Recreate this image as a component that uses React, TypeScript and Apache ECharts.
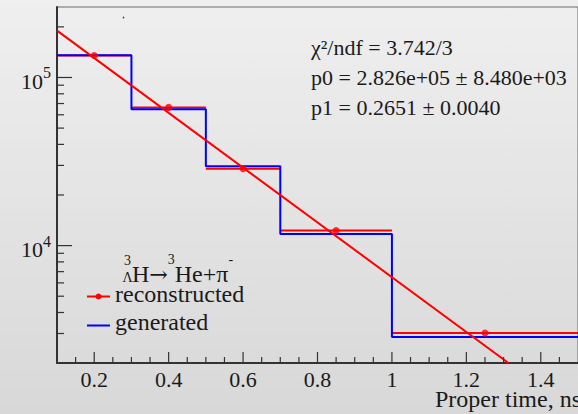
import React, { useEffect, useRef } from 'react';
import * as echarts from 'echarts';

// ---- data ----
const binEdges = [0.1, 0.3, 0.5, 0.7, 1.0, 1.5];
const binCenters = [0.2, 0.4, 0.6, 0.85, 1.25];
const generated = [135700, 64800, 29700, 11740, 2860];
const reconstructed = [135200, 66400, 28700, 12280, 3020];
const fitLine = [
  [0.1, 190000],
  [1.313, 2003],
];
const xMajorTicks = [0.2, 0.4, 0.6, 0.8, 1.0, 1.2, 1.4];
const xMajorLabels = ['0.2', '0.4', '0.6', '0.8', '1', '1.2', '1.4'];
const xMinorTicks = [
  0.15, 0.25, 0.3, 0.35, 0.45, 0.5, 0.55, 0.65, 0.7, 0.75, 0.85, 0.9, 0.95,
  1.05, 1.1, 1.15, 1.25, 1.3, 1.35, 1.45,
];
const yMajorTicks = [10000, 100000];
const yMajorExponents = ['4', '5'];
const yMinorTicks = [
  3000, 4000, 5000, 6000, 7000, 8000, 9000, 20000, 30000, 40000, 50000, 60000,
  70000, 80000, 90000, 200000,
];
const statLines = [
  'χ²/ndf = 3.742/3',
  'p0 = 2.826e+05 ± 8.480e+03',
  'p1 = 0.2651 ± 0.0040',
];
const legendLabels = ['reconstructed', 'generated'];

const X_MIN = 0.1;
const X_MAX = 1.5;
const Y_MIN = 2003;
const Y_MAX = 262600;

const FAMILY = "'Liberation Serif', serif";
const ARROW_FAMILY = "'DejaVu Serif', serif";
const AXIS = '#333333';
const TEXT = '#1a1a1a';
const RED = '#ff0000';
const BLUE = '#0000ff';

function txt(text: string, x: number, y: number, size: number, align = 'left', extra: any = {}) {
  return {
    type: 'text',
    x,
    y,
    silent: true,
    style: {
      text,
      fill: TEXT,
      fontSize: size,
      fontFamily: FAMILY,
      align,
      verticalAlign: 'middle',
      ...extra,
    },
  };
}

export default function App() {
  const ref = useRef<HTMLDivElement>(null);

  useEffect(() => {
    if (!ref.current) return;
    const chart = echarts.init(ref.current, undefined, { renderer: 'svg' });

    const graphic: any[] = [
      // stats text
      ...statLines.map((s, i) => txt(s, 311, 47.5 + i * 30, 22)),
      // legend header: ^3_Λ H → ^3 He + π^-
      txt('3\nΛ', 127.5, 251.5, 14, 'center', { verticalAlign: 'top', lineHeight: 17 }),
      {
        type: 'text',
        x: 132,
        y: 252.5,
        silent: true,
        style: {
          text: '{b|H}{a|→}{s|3}{b|He+π}{s|-}',
          fill: TEXT,
          fontSize: 24,
          fontFamily: FAMILY,
          align: 'left',
          verticalAlign: 'top',
          rich: {
            b: { fontSize: 24, fontFamily: FAMILY, fill: TEXT, lineHeight: 33, verticalAlign: 'bottom' },
            a: { fontSize: 22, fontFamily: ARROW_FAMILY, fill: TEXT, lineHeight: 33, verticalAlign: 'bottom' },
            s: { fontSize: 14, fontFamily: FAMILY, fill: TEXT, lineHeight: 14, verticalAlign: 'top' },
          },
        },
      },
      // legend entries
      { type: 'line', silent: true, shape: { x1: 87, y1: 296.5, x2: 110, y2: 296.5 }, style: { stroke: RED, lineWidth: 2 } },
      { type: 'circle', silent: true, shape: { cx: 98.5, cy: 296.5, r: 3 }, style: { fill: RED } },
      txt(legendLabels[0], 115, 293.5, 24),
      { type: 'line', silent: true, shape: { x1: 87, y1: 325.5, x2: 110, y2: 325.5 }, style: { stroke: BLUE, lineWidth: 2 } },
      txt(legendLabels[1], 115, 322, 24),
      // axis title
      txt('Proper time, ns', 581, 399, 24, 'right'),
      // stray dot in the original
      { type: 'circle', silent: true, shape: { cx: 123.5, cy: 17.5, r: 0.8 }, style: { fill: '#444' } },
    ];

    const option: any = {
      animation: false,
      textStyle: { fontFamily: FAMILY },
      backgroundColor: {
        type: 'linear',
        x: 0,
        y: 0,
        x2: 0,
        y2: 1,
        colorStops: [
          { offset: 0, color: '#efefef' },
          { offset: 1, color: '#d8d8d8' },
        ],
      },
      grid: {
        left: 57,
        top: 7,
        width: 524,
        height: 356,
        show: true,
        borderColor: '#6a6a6a',
        borderWidth: 1,
        backgroundColor: 'transparent',
      },
      xAxis: {
        type: 'value',
        min: X_MIN,
        max: X_MAX,
        axisLine: { show: true, onZero: false, lineStyle: { color: AXIS, width: 2 } },
        axisTick: { show: false },
        axisLabel: { show: false },
        splitLine: { show: false },
      },
      yAxis: {
        type: 'log',
        logBase: 10,
        min: Y_MIN,
        max: Y_MAX,
        axisLine: { show: true, lineStyle: { color: AXIS, width: 2 } },
        axisTick: { show: false },
        axisLabel: { show: false },
        splitLine: { show: false },
      },
      graphic,
      series: [
        // x minor ticks
        {
          type: 'custom',
          silent: true,
          z: 10,
          data: xMinorTicks.map((v) => [v, Y_MIN]),
          encode: { x: 0, y: 1 },
          renderItem: (params: any, api: any) => {
            const p = api.coord([api.value(0), Y_MIN]);
            return {
              type: 'line',
              shape: { x1: p[0], y1: p[1], x2: p[0], y2: p[1] - 6 },
              style: { stroke: AXIS, lineWidth: 1.2 },
            };
          },
        },
        // x major ticks + labels
        {
          type: 'custom',
          silent: true,
          z: 10,
          data: xMajorTicks.map((v) => [v, Y_MIN]),
          encode: { x: 0, y: 1 },
          renderItem: (params: any, api: any) => {
            const p = api.coord([api.value(0), Y_MIN]);
            return {
              type: 'group',
              children: [
                {
                  type: 'line',
                  shape: { x1: p[0], y1: p[1], x2: p[0], y2: p[1] - 11 },
                  style: { stroke: AXIS, lineWidth: 1.2 },
                },
                txt(xMajorLabels[params.dataIndex], p[0], p[1] + 16.5, 22, 'center'),
              ],
            };
          },
        },
        // y minor ticks
        {
          type: 'custom',
          silent: true,
          z: 10,
          data: yMinorTicks.map((v) => [X_MIN, v]),
          encode: { x: 0, y: 1 },
          renderItem: (params: any, api: any) => {
            const p = api.coord([X_MIN, api.value(1)]);
            return {
              type: 'line',
              shape: { x1: p[0], y1: p[1], x2: p[0] + 7, y2: p[1] },
              style: { stroke: AXIS, lineWidth: 1.2 },
            };
          },
        },
        // y major ticks + labels
        {
          type: 'custom',
          silent: true,
          z: 10,
          data: yMajorTicks.map((v) => [X_MIN, v]),
          encode: { x: 0, y: 1 },
          renderItem: (params: any, api: any) => {
            const p = api.coord([X_MIN, api.value(1)]);
            return {
              type: 'group',
              children: [
                {
                  type: 'line',
                  shape: { x1: p[0], y1: p[1], x2: p[0] + 15, y2: p[1] },
                  style: { stroke: AXIS, lineWidth: 1.2 },
                },
                txt('10', p[0] - 14, p[1] + 4, 22, 'right'),
                txt(yMajorExponents[params.dataIndex], p[0] - 14, p[1] - 4.5, 16, 'left'),
              ],
            };
          },
        },
        // reconstructed: horizontal bin-width bars
        {
          type: 'custom',
          silent: true,
          z: 2,
          data: reconstructed.map((v, i) => [binEdges[i], binEdges[i + 1], v]),
          encode: { x: [0, 1], y: 2 },
          renderItem: (params: any, api: any) => {
            const a = api.coord([api.value(0), api.value(2)]);
            const b = api.coord([api.value(1), api.value(2)]);
            return {
              type: 'line',
              shape: { x1: a[0], y1: a[1], x2: b[0], y2: b[1] },
              style: { stroke: RED, lineWidth: 2 },
            };
          },
        },
        // generated: step histogram
        {
          type: 'line',
          name: 'generated',
          step: 'end',
          z: 3,
          showSymbol: false,
          symbol: 'none',
          data: [...generated.map((v, i) => [binEdges[i], v]), [binEdges[binEdges.length - 1], generated[generated.length - 1]]],
          lineStyle: { color: BLUE, width: 2 },
          itemStyle: { color: BLUE },
        },
        // reconstructed: points
        {
          type: 'scatter',
          name: 'reconstructed',
          z: 4,
          symbol: 'circle',
          symbolSize: 7,
          data: reconstructed.map((v, i) => [binCenters[i], v]),
          itemStyle: { color: RED },
        },
        // fit
        {
          type: 'line',
          name: 'fit',
          z: 5,
          showSymbol: false,
          symbol: 'none',
          clip: true,
          data: fitLine,
          lineStyle: { color: RED, width: 2 },
        },
      ],
    };

    chart.setOption(option);
    return () => chart.dispose();
  }, []);

  return (
    <div
      ref={ref}
      style={{ position: 'fixed', left: 0, top: 0, width: 578, height: 414 }}
    />
  );
}
